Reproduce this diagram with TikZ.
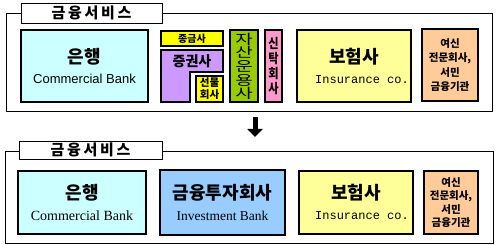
\documentclass[tikz,border=0pt]{standalone}
\usepackage{fontspec}
\setmainfont{Noto Sans CJK KR}
\newfontfamily\lsans{Liberation Sans}
\newfontfamily\lserif{Liberation Serif}
\newfontfamily\lmono{Liberation Mono}
\usetikzlibrary{arrows.meta}
\definecolor{cyanbox}{HTML}{CCFFFF}
\definecolor{yelbox}{HTML}{FFFF00}
\definecolor{purbox}{HTML}{CC99FF}
\definecolor{grnbox}{HTML}{99CC00}
\definecolor{pnkbox}{HTML}{FF99CC}
\definecolor{lyelbox}{HTML}{FFFF99}
\definecolor{peachbox}{HTML}{FFCC99}
\definecolor{bluebox}{HTML}{99CCFF}
\begin{document}
\begin{tikzpicture}[x=1pt,y=-1pt,
  box/.style={draw=black, line width=1.6pt, inner sep=0pt, align=center},
  frame/.style={draw=black, line width=0.8pt},
  tab/.style={draw=black, line width=0.8pt, fill=white, inner sep=0pt,
    minimum width=141pt, minimum height=20pt,
    font=\fontsize{15}{15}\selectfont\bfseries\addfontfeature{LetterSpace=18}},
  big/.style={font=\fontsize{18}{18}\selectfont\bfseries},
  sub/.style={font=\fontsize{13}{13}\selectfont},
  small/.style={font=\fontsize{10.5}{14.5}\selectfont\bfseries},
  dnarrow/.style={line width=5pt, -{Triangle[width=15pt,length=8pt]}}
]
\useasboundingbox (0,0) rectangle (500,245);
\fill[white] (0,0) rectangle (500,245);

% ---------- top section ----------
\draw[frame] (6,13) rectangle (492,111);
\node[tab] (tab1) at (91.5,13) {금융서비스};

\node[box, fill=cyanbox, minimum width=127pt, minimum height=72pt] (bank1) at (84.5,66) {};
\node[big] (bank1k) at (84.5,57) {은행};
\node[sub] (bank1e) at (84.5,79) {\lsans Commercial Bank};

\node[box, fill=yelbox, minimum width=62pt, minimum height=15pt,
  font=\fontsize{10}{10}\selectfont\bfseries] (jong) at (192,38.5) {종금사};

\draw[line width=1.6pt, fill=purbox] (161,50) -- (223,50) -- (223,72) -- (190,72)
  -- (190,102) -- (161,102) -- cycle;
\node[font=\fontsize{14}{14}\selectfont\bfseries] (jeung) at (192,61) {증권사};

\node[box, fill=yelbox, minimum width=27pt, minimum height=26pt,
  font=\fontsize{10.5}{12}\selectfont\bfseries] (sunmul) at (209.5,89) {선물\\회사};

\node[box, fill=grnbox, minimum width=28pt, minimum height=72pt] (asset) at (244,66) {};
\node[font=\fontsize{19}{19}\selectfont, align=center, yscale=0.72, transform shape]
  (assett) at (244,66.5) {자\\산\\운\\용\\사};

\node[box, fill=pnkbox, minimum width=17pt, minimum height=72pt] (trust) at (273.5,66) {};
\node[font=\fontsize{14}{16}\selectfont\bfseries, align=center, xscale=0.8, yscale=0.95, transform shape]
  (trustt) at (273.5,66) {신\\탁\\회\\사};

\node[box, fill=lyelbox, minimum width=114pt, minimum height=72pt] (ins1) at (354,66) {};
\node[big] (ins1k) at (354,57) {보험사};
\node[font=\fontsize{12}{12}\selectfont] (ins1e) at (362,80) {\lmono Insurance co.};

\node[box, fill=peachbox, minimum width=56pt, minimum height=72pt, small] (yeo1) at (450,65)
  {여신\\전문회사,\\서민\\금융기관};

% ---------- arrow ----------
\coordinate (arrtop) at (255,117);
\coordinate (arrbot) at (255,137);
\draw[dnarrow] (arrtop) -- (arrbot);

% ---------- bottom section ----------
\draw[frame] (5,151) rectangle (493,243);
\node[tab, minimum width=143pt, minimum height=18pt] (tab2) at (90.5,150) {금융서비스};

\node[box, fill=cyanbox, minimum width=128pt, minimum height=63pt] (bank2) at (82,202.5) {};
\node[big] (bank2k) at (82,193) {은행};
\node[font=\fontsize{14}{14}\selectfont] (bank2e) at (82,216) {\lserif Commercial Bank};

\node[box, fill=bluebox, minimum width=125pt, minimum height=65pt] (inv) at (222.5,202.5) {};
\node[big] (invk) at (222.5,193) {금융투자회사};
\node[font=\fontsize{13.5}{13.5}\selectfont] (inve) at (222.5,216) {\lserif Investment Bank};

\node[box, fill=lyelbox, minimum width=114pt, minimum height=63pt] (ins2) at (356,202.5) {};
\node[big] (ins2k) at (356,193) {보험사};
\node[font=\fontsize{12}{12}\selectfont] (ins2e) at (362,216) {\lmono Insurance co.};

\node[box, fill=peachbox, minimum width=54pt, minimum height=63pt,
  font=\fontsize{10.5}{13.5}\selectfont\bfseries] (yeo2) at (451,202.5)
  {여신\\전문회사,\\서민\\금융기관};
\end{tikzpicture}
\end{document}
